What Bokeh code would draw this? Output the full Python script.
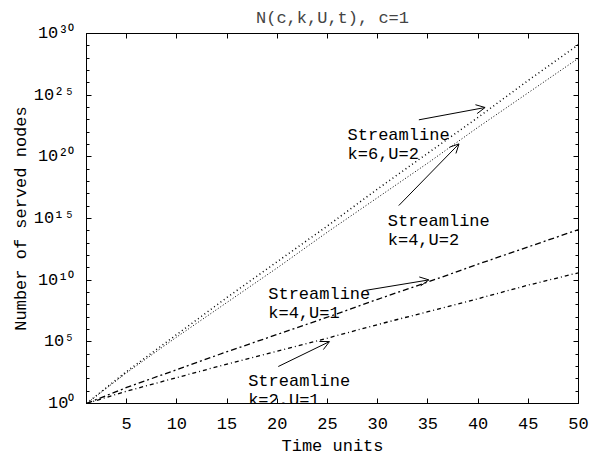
from bokeh.plotting import figure
from bokeh.models import (FixedTicker, LinearAxis, LogAxis, Arrow, OpenHead,
                          ColumnDataSource, Range1d)
from bokeh.core.properties import value
from bokeh.embed import file_html
from bokeh.resources import INLINE

# ---------------- data ----------------
t = [1, 5, 10, 15, 20, 25, 30, 35, 40, 45, 50]
# log10 of served nodes
log_k6_u2 = [0, 2.6, 5.6, 8.6, 11.5, 14.4, 17.4, 20.3, 23.2, 26.2, 29.1]
log_k4_u2 = [0, 2.5, 5.4, 8.2, 11.0, 13.9, 16.7, 19.5, 22.4, 25.2, 28.0]
log_k4_u1 = [0, 1.3, 2.75, 4.2, 5.6, 7.0, 8.45, 9.85, 11.3, 12.7, 14.1]
log_k2_u1 = [0, 1.0, 2.1, 3.2, 4.25, 5.3, 6.4, 7.45, 8.5, 9.6, 10.6]

xticks = [5, 10, 15, 20, 25, 30, 35, 40, 45, 50]
ytick_exp = [0, 5, 10, 15, 20, 25, 30]
ytick_labels = ["10⁰", "10⁵", "10¹⁰", "10¹⁵", "10²⁰", "10²⁵", "10³⁰"]

label_texts = ["Streamline\nk=6,U=2", "Streamline\nk=4,U=2",
               "Streamline\nk=4,U=1", "Streamline\nk=2,U=1"]
label_t = [27.0, 31.0, 19.1, 17.1]
label_log = [22.5, 15.55, 9.6, 2.55]

arrow_t0 = [34.1, 32.1, 28.7, 20.1]
arrow_log0 = [23.0, 16.05, 9.16, 3.0]
arrow_t1 = [40.7, 38.1, 35.1, 25.2]
arrow_log1 = [24.0, 21.05, 10.02, 5.02]

title_text = "N(c,k,U,t), c=1"
xlabel = "Time units"
ylabel = "Number of served nodes"

FONT = "Liberation Mono"
FS = "17px"

def pw(vals):
    return [10.0 ** v for v in vals]

# ---------------- figure ----------------
p = figure(width=595, height=460, x_range=Range1d(1, 50), y_range=Range1d(1, 1e30),
           y_axis_type="log", output_backend="svg", toolbar_location=None,
           min_border_left=86, min_border_right=17, min_border_top=33,
           min_border_bottom=57, title=title_text)

p.title.text_font = FONT
p.title.text_font_size = FS
p.title.text_font_style = "normal"
p.title.align = "center"
p.title.standoff = 11

p.grid.visible = False
p.outline_line_color = "black"
p.outline_line_width = 1
p.background_fill_color = "white"
p.border_fill_color = "white"

ymajor = [10.0 ** e for e in ytick_exp]
yminor = [10.0 ** e for e in range(0, 31) if e not in ytick_exp]

def style_axis(ax):
    ax.axis_line_color = "black"
    ax.major_tick_line_color = "black"
    ax.minor_tick_line_color = "black"
    ax.major_tick_in = 5
    ax.major_tick_out = 0
    ax.minor_tick_in = 3
    ax.minor_tick_out = 0
    ax.major_label_text_font = FONT
    ax.major_label_text_font_size = FS
    ax.major_label_text_color = "black"
    ax.axis_label_text_font = FONT
    ax.axis_label_text_font_size = FS
    ax.axis_label_text_font_style = "normal"
    ax.axis_label_text_color = "black"

xa = p.xaxis[0]
style_axis(xa)
xa.ticker = FixedTicker(ticks=xticks)
xa.axis_label = xlabel
xa.major_label_standoff = 14
xa.axis_label_standoff = 5

ya = p.yaxis[0]
style_axis(ya)
ya.ticker = FixedTicker(ticks=ymajor, minor_ticks=yminor)
ya.major_label_overrides = {v: s for v, s in zip(ymajor, ytick_labels)}
ya.axis_label = ylabel
ya.major_label_standoff = 12
ya.axis_label_standoff = 0

# mirrored tick marks (no labels) on top and right
top = LinearAxis(ticker=FixedTicker(ticks=xticks))
style_axis(top)
top.major_label_text_font_size = "1px"
top.major_label_text_color = None
top.major_label_standoff = 0
p.add_layout(top, "above")

right = LogAxis(ticker=FixedTicker(ticks=ymajor, minor_ticks=yminor))
style_axis(right)
right.major_label_text_font_size = "1px"
right.major_label_text_color = None
right.major_label_standoff = 0
p.add_layout(right, "right")

# ---------------- series ----------------
p.line(t, pw(log_k6_u2), line_color="black", line_width=1.5, line_dash="1 3")
p.line(t, pw(log_k4_u2), line_color="black", line_width=1, line_dash="1 2")
p.line(t, pw(log_k4_u1), line_color="black", line_width=1.3, line_dash="6 3 2 3")
p.line(t, pw(log_k2_u1), line_color="black", line_width=1.3, line_dash="4 3 1 3")

# ---------------- annotations ----------------
arr_src = ColumnDataSource(dict(x0=arrow_t0, y0=pw(arrow_log0),
                                x1=arrow_t1, y1=pw(arrow_log1)))
p.add_layout(Arrow(end=OpenHead(size=9, line_width=1, line_color="black"),
                   x_start="x0", y_start="y0", x_end="x1", y_end="y1",
                   source=arr_src, line_width=1, line_color="black"))

lab_src = ColumnDataSource(dict(x=label_t, y=pw(label_log), text=label_texts))
p.text(x="x", y="y", text="text", source=lab_src, text_font=value(FONT),
       text_font_size=FS, text_baseline="top", text_align="left",
       text_line_height=1.02, text_color="black")

open("out.html", "w").write(file_html(p, INLINE))
